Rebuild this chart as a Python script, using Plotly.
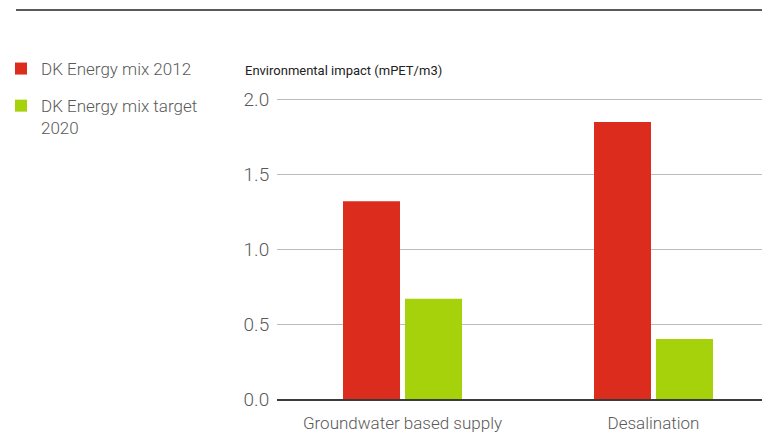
import plotly.graph_objects as go

categories = ["Groundwater based supply", "Desalination"]
mix_2012 = [1.32, 1.85]
mix_2020 = [0.67, 0.40]
series_names = ["DK Energy mix 2012", "DK Energy mix target<br>2020"]
y_ticks = [0.0, 0.5, 1.0, 1.5, 2.0]
y_tick_labels = ["0.0", "0.5", "1.0", "1.5", "2.0"]
axis_title = "Environmental impact (mPET/m3)"

RED = "#dc2c1e"
GREEN = "#a5d20a"
TXT = "#5a5a5a"
FONT = "Roboto"

# The page body has an 8px margin on every side; size the figure so the page
# never overflows (no scrollbars) and position everything in screen pixels.
OFF = 8
W, H = 770 - 2 * OFF, 440 - 2 * OFF
ML, MR = 277 - OFF, 0
MT = 92 - OFF
MB = H - (399 - OFF)

# category centres at screen x 402.5 and 653.5 -> 251 px per category
plot_w = W - ML - MR
x_hi = -0.5 + plot_w / 251.0

fig = go.Figure()
fig.add_trace(go.Bar(
    x=categories, y=mix_2012, name=series_names[0],
    marker=dict(color=RED, line=dict(width=0)),
    width=0.227, offset=-0.237, legendgroup="a",
))
fig.add_trace(go.Bar(
    x=categories, y=mix_2020, name=series_names[1],
    marker=dict(color=GREEN, line=dict(width=0)),
    width=0.227, offset=0.01, legendgroup="b",
))

def px_to_paper_x(p):
    return (p - OFF - ML) / (W - ML - MR)

def px_to_paper_y(p):
    return (H - MB - (p - OFF)) / (H - MT - MB)

fig.update_layout(
    width=W, height=H,
    margin=dict(l=ML, r=MR, t=MT, b=MB, pad=0, autoexpand=False),
    paper_bgcolor="white", plot_bgcolor="white",
    barmode="overlay",
    font=dict(family=FONT, size=17, color=TXT, weight=300),
    showlegend=True,
    legend=dict(
        x=px_to_paper_x(1), xanchor="left",
        y=px_to_paper_y(51), yanchor="top",
        font=dict(family=FONT, size=17, color=TXT, weight=300),
        traceorder="grouped", tracegroupgap=12,
        valign="top", itemwidth=30,
        bgcolor="rgba(0,0,0,0)",
    ),
    xaxis=dict(
        type="category", range=[-0.5, x_hi],
        showgrid=False, zeroline=False,
        showline=True, linecolor="#3a3a3a", linewidth=1.5,
        ticks="outside", ticklen=8, tickcolor="rgba(0,0,0,0)",
        tickfont=dict(family=FONT, size=17, color=TXT, weight=300),
        layer="above traces",
    ),
    yaxis=dict(
        range=[0, 2.05], tickvals=y_ticks, ticktext=y_tick_labels,
        showgrid=True, gridcolor="#bcbcbc", gridwidth=1.3,
        zeroline=False, showline=False,
        ticks="outside", ticklen=3, tickcolor="rgba(0,0,0,0)",
        tickfont=dict(family=FONT, size=19, color=TXT, weight=300),
    ),
    shapes=[dict(
        type="line", xref="paper", yref="paper",
        x0=px_to_paper_x(16), x1=px_to_paper_x(770),
        y0=px_to_paper_y(10), y1=px_to_paper_y(10),
        line=dict(color="#222222", width=1.5),
    )],
    annotations=[dict(
        text=axis_title, xref="paper", yref="paper",
        x=px_to_paper_x(243), xanchor="left",
        y=px_to_paper_y(71), yanchor="middle",
        showarrow=False,
        font=dict(family=FONT, size=13, color="#222222", weight=400),
    )],
)

fig.write_html("out.html")
